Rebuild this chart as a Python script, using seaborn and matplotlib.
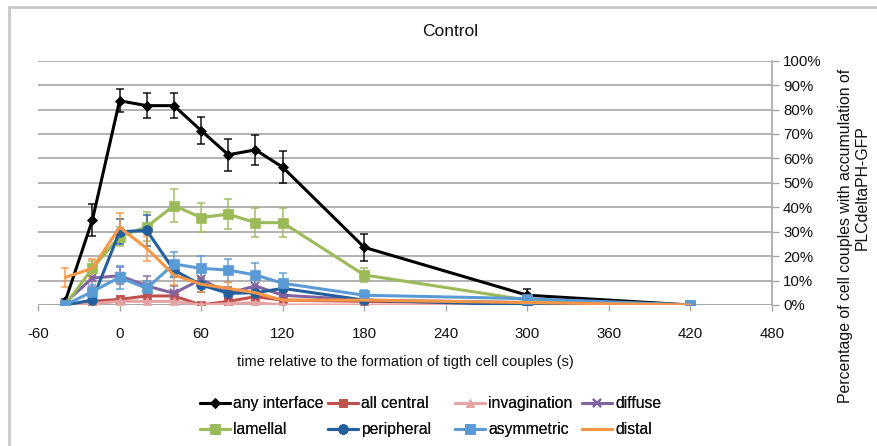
import matplotlib
matplotlib.use("Agg")
import matplotlib.pyplot as plt
import seaborn as sns
import pandas as pd
import numpy as np

time = [-40, -20, 0, 20, 40, 60, 80, 100, 120, 180, 300, 420]

any_interface = [1.5, 34.8, 83.6, 81.6, 81.6, 71.4, 61.5, 63.5, 56.4, 23.6, 4.0, 0.0]
any_interface_err = [1.0, 6.5, 4.8, 5.0, 5.0, 5.6, 6.5, 6.2, 6.6, 5.5, 2.5, 0.0]
all_central = [0.0, 1.5, 2.3, 3.7, 3.7, 0.0, 1.5, 3.4, 2.0, 1.5, 0.5, 0.0]
all_central_err = [0.0, 1.5, 1.5, 2.0, 2.0, 0.5, 1.5, 2.0, 1.5, 1.0, 0.5, 0.0]
invagination = [0.0, 0.5, 1.5, 1.5, 1.5, 0.0, 0.5, 1.0, 0.0, 0.0, 0.0, 0.0]
invagination_err = [0.0, 0.5, 1.0, 1.0, 1.0, 0.0, 0.5, 1.0, 0.0, 0.0, 0.0, 0.0]
diffuse = [1.0, 11.0, 12.0, 7.8, 4.8, 10.5, 4.8, 7.8, 4.0, 2.0, 1.0, 0.0]
diffuse_err = [1.0, 3.5, 3.5, 4.0, 3.0, 3.0, 2.5, 3.0, 2.0, 1.0, 0.5, 0.0]
lamellal = [0.0, 15.0, 28.0, 32.0, 40.7, 35.8, 37.2, 33.7, 33.7, 12.3, 2.0, 0.0]
lamellal_err = [0.0, 3.0, 4.0, 6.0, 6.8, 6.0, 6.0, 6.0, 6.0, 3.0, 1.0, 0.0]
peripheral = [0.0, 2.0, 30.0, 30.5, 14.3, 8.2, 4.8, 5.0, 6.8, 2.0, 0.0, 0.0]
peripheral_err = [0.0, 1.5, 5.0, 6.5, 3.0, 3.0, 2.0, 2.0, 2.5, 1.0, 0.0, 0.0]
asymmetric = [0.0, 5.5, 11.3, 6.8, 16.8, 15.0, 14.3, 12.3, 8.9, 4.0, 2.6, 0.0]
asymmetric_err = [0.0, 2.5, 4.7, 3.0, 5.0, 5.0, 4.7, 4.7, 4.0, 2.0, 1.0, 0.0]
distal = [11.3, 15.0, 31.8, 23.2, 12.3, 8.5, 6.8, 5.0, 2.0, 2.0, 1.0, 0.0]
distal_err = [4.0, 4.0, 6.0, 5.0, 4.0, 3.0, 2.5, 2.0, 1.0, 1.0, 0.5, 0.0]

series_names = ["any interface", "all central", "invagination", "diffuse",
                "lamellal", "peripheral", "asymmetric", "distal"]
series_vals = [any_interface, all_central, invagination, diffuse,
               lamellal, peripheral, asymmetric, distal]
series_errs = [any_interface_err, all_central_err, invagination_err, diffuse_err,
               lamellal_err, peripheral_err, asymmetric_err, distal_err]
colors = ["#000000", "#C0504D", "#E6A3A3", "#8064A2",
          "#9BBB59", "#235F9C", "#5B9BD5", "#F79646"]
markers = ["D", "s", "^", "x", "s", "o", "s", None]
msizes = [5, 6, 6, 6, 7, 7, 7.5, 0]

sns.set_theme(style="white")
plt.rcParams['font.family'] = ['Liberation Sans', 'DejaVu Sans']
plt.rcParams['axes.unicode_minus'] = False

fig = plt.figure(figsize=(8.78, 4.46), dpi=100)
ax = fig.add_axes([38/878, 1-305/446, (772-38)/878, (305-60.7)/446])

draw_order = [1, 2, 3, 7, 6, 5, 4, 0]
handles = {}
for i in draw_order:
    name = series_names[i]
    df = pd.DataFrame({"time": time, "value": series_vals[i]})
    ax.errorbar(time, series_vals[i], yerr=series_errs[i], fmt="none",
                ecolor=colors[i], elinewidth=1.2, capsize=3, capthick=1.2,
                zorder=2 + i * 0.1, alpha=0.85)
    mk = markers[i]
    kw = {}
    if mk is not None:
        kw = dict(marker=mk, markersize=msizes[i], markeredgecolor=colors[i],
                  markerfacecolor=colors[i], markeredgewidth=1.5 if mk == "x" else 0.5)
    sns.lineplot(data=df, x="time", y="value", ax=ax, color=colors[i],
                 linewidth=2.2, label=name, zorder=3 + i * 0.1, **kw)
    handles[name] = ax.get_lines()[-1]

if ax.get_legend() is not None:
    ax.get_legend().remove()

ax.set_xlim(-60, 480)
ax.set_ylim(0, 100)
ax.set_xticks(list(range(-60, 481, 60)))
ax.set_yticks(list(range(0, 101, 10)))
ax.set_yticklabels([f"{v}%" for v in range(0, 101, 10)])
ax.yaxis.tick_right()
ax.yaxis.grid(True, color="#A6A6A6", linewidth=1.2)
ax.xaxis.grid(False)
ax.set_axisbelow(True)
for s in ["top", "left", "bottom"]:
    ax.spines[s].set_visible(False)
ax.spines["right"].set_color("#A6A6A6")
ax.spines["right"].set_linewidth(1.2)
ax.axhline(0, color="#A6A6A6", linewidth=1.2, zorder=1)
ax.tick_params(axis="x", which="both", direction="out", length=4, width=1.0,
               color="#A6A6A6", bottom=True, labelsize=10.8, pad=12, labelcolor="#111111")
ax.tick_params(axis="y", which="both", direction="out", length=5, width=1.0,
               color="#A6A6A6", right=True, left=False, labelsize=10.8, pad=3, labelcolor="#111111")
ax.set_xlabel("time relative to the formation of tigth cell couples (s)", fontsize=10.5,
              labelpad=10, color="#111111")
ax.set_ylabel("")

fig.text(450/878, 1-31/446, "Control", ha="center", va="center", fontsize=12.5, color="#111111")
fig.text(846/878, 1-236/446, "Percentage of cell couples with accumulation of",
         rotation=90, ha="center", va="center", fontsize=11.4, color="#111111")
fig.text(862/878, 1-188/446, "PLCdeltaPH-GFP",
         rotation=90, ha="center", va="center", fontsize=11.4, color="#111111")

cols = [["any interface", "lamellal"], ["all central", "peripheral"],
        ["invagination", "asymmetric"], ["diffuse", "distal"]]
col_x = [200, 328, 455, 582]
for cx, names in zip(col_x, cols):
    leg = fig.legend([handles[n] for n in names], names, loc="upper left",
                     bbox_to_anchor=(cx/878, 1-396/446), frameon=False,
                     fontsize=11.3, handlelength=1.9, handletextpad=0.2,
                     labelspacing=0.72, borderpad=0, borderaxespad=0)
    for t in leg.get_texts():
        t.set_color("#111111")
    fig.add_artist(leg)

fig.add_artist(plt.Line2D([9.5/878, 9.5/878], [0, 1-6.5/446], transform=fig.transFigure,
                          color="#C8C8C8", linewidth=2))
fig.add_artist(plt.Line2D([9.5/878, 1], [1-6.5/446, 1-6.5/446], transform=fig.transFigure,
                          color="#C8C8C8", linewidth=2))

fig.savefig("out.png", dpi=100)
